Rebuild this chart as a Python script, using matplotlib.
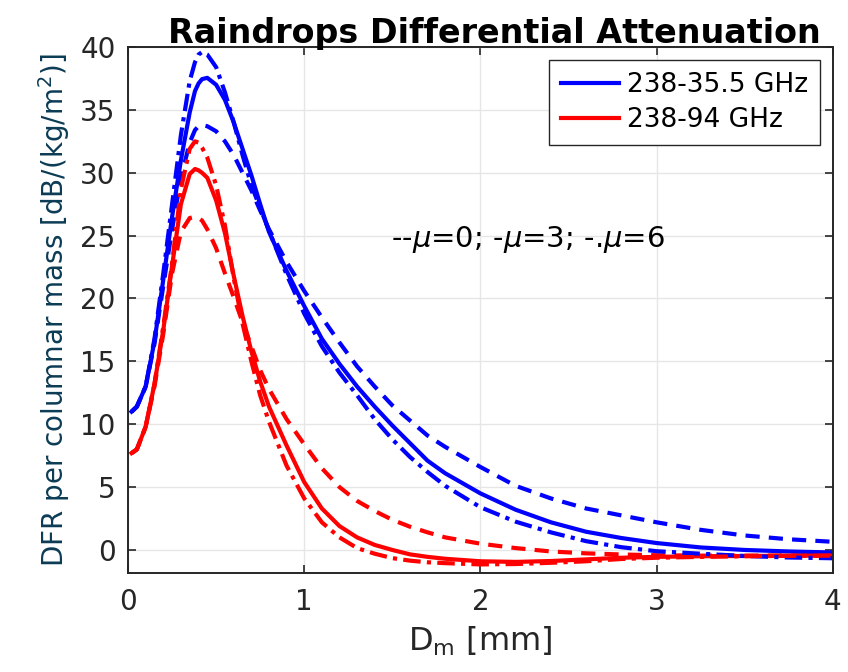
import matplotlib

matplotlib.use("Agg")

import matplotlib.pyplot as plt

# Dm grid [mm]
d_m = [0.02, 0.05, 0.1, 0.15, 0.2, 0.25, 0.3, 0.35, 0.38, 0.4, 0.42, 0.45, 0.5, 0.55,
       0.6, 0.65, 0.7, 0.75, 0.8, 0.9, 1.0, 1.1, 1.2, 1.3, 1.4, 1.5, 1.6, 1.7, 1.8,
       2.0, 2.2, 2.4, 2.6, 2.8, 3.0, 3.25, 3.5, 3.75, 4.0]

# 238-35.5 GHz
blue_mu0 = [11.0, 11.4, 13.0, 16.4, 21.0, 25.5, 29.6, 32.4, 33.4, 33.7, 33.8, 33.7, 33.3, 32.5,
            31.4, 30.0, 28.6, 27.0, 25.5, 22.9, 20.6, 18.5, 16.5, 14.6, 13.0, 11.5, 10.3, 9.1, 8.2,
            6.6, 5.1, 4.1, 3.3, 2.75, 2.2, 1.6, 1.15, 0.85, 0.65]
blue_mu3 = [11.0, 11.4, 13.0, 16.6, 21.5, 26.5, 31.0, 34.8, 36.5, 37.1, 37.45, 37.55, 37.0, 35.8,
            34.0, 31.9, 29.8, 27.5, 25.3, 22.2, 19.4, 16.8, 14.8, 13.0, 11.4, 9.9, 8.5, 7.1, 6.1,
            4.5, 3.2, 2.2, 1.45, 0.95, 0.55, 0.2, 0.0, -0.12, -0.2]
blue_mu6 = [11.0, 11.4, 13.0, 16.8, 22.0, 27.5, 33.0, 37.3, 38.8, 39.4, 39.6, 39.4, 38.4, 36.4,
            34.0, 31.4, 29.0, 27.2, 25.4, 21.9, 18.8, 16.2, 14.1, 12.3, 10.4, 8.8, 7.4, 6.2, 5.1,
            3.4, 2.25, 1.4, 0.7, 0.22, -0.1, -0.3, -0.48, -0.6, -0.66]

# 238-94 GHz
red_mu0 = [7.7, 8.0, 9.8, 13.0, 17.2, 22.0, 25.3, 26.4, 26.5, 26.4, 26.2, 25.5, 24.0, 22.0,
           20.1, 18.1, 16.2, 14.3, 12.8, 10.4, 8.4, 6.5, 5.0, 3.9, 3.1, 2.4, 1.85, 1.4, 1.0,
           0.5, 0.15, -0.12, -0.27, -0.36, -0.42, -0.45, -0.45, -0.44, -0.42]
red_mu3 = [7.7, 8.0, 9.8, 13.2, 17.5, 22.6, 27.5, 29.9, 30.3, 30.2, 30.0, 29.6, 27.8, 25.2,
           21.8, 18.6, 15.8, 13.4, 11.4, 8.3, 5.4, 3.3, 1.9, 1.0, 0.4, 0.0, -0.35, -0.55, -0.7,
           -0.9, -0.95, -0.88, -0.75, -0.62, -0.55, -0.5, -0.48, -0.46, -0.45]
red_mu6 = [7.7, 8.0, 9.8, 13.2, 17.8, 22.8, 28.7, 31.9, 32.5, 32.4, 32.0, 31.2, 29.0, 25.8,
           21.6, 18.0, 15.0, 12.3, 10.2, 6.7, 4.1, 2.2, 1.0, 0.15, -0.3, -0.65, -0.85, -0.98, -1.05,
           -1.15, -1.12, -1.02, -0.9, -0.72, -0.62, -0.55, -0.5, -0.47, -0.45]

x_ticks = [0, 1, 2, 3, 4]
y_ticks = [0, 5, 10, 15, 20, 25, 30, 35, 40]

plt.rcParams["font.family"] = "DejaVu Sans"
dark = "#262626"
lw = 3.0
style = dict(lw=lw, solid_joinstyle="round", dash_joinstyle="round")

fig = plt.figure(figsize=(8.48, 6.72), dpi=100)
ax = fig.add_axes([0.151, 0.147, 0.831, 0.783])

for y, col in [(blue_mu0, "blue"), (red_mu0, "red")]:
    ax.plot(d_m, y, color=col, linestyle=(0, (3.4, 2.2)), **style)
h1, = ax.plot(d_m, blue_mu3, color="blue", label="238-35.5 GHz", **style)
h2, = ax.plot(d_m, red_mu3, color="red", label="238-94 GHz", **style)
for y, col in [(blue_mu6, "blue"), (red_mu6, "red")]:
    ax.plot(d_m, y, color=col, linestyle=(0, (4.2, 1.5, 1.0, 1.5)), **style)

ax.set_xlim(0, 4)
ax.set_ylim(-1.85, 40)
ax.set_xticks(x_ticks)
ax.set_yticks(y_ticks)
ax.grid(True, color="#e6e6e6", lw=1.0)
ax.set_axisbelow(True)
ax.tick_params(direction="in", length=6, width=1.2, colors=dark, labelsize=20,
               top=True, right=True)
ax.tick_params(axis="x", pad=11)
ax.tick_params(axis="y", pad=9)
for s in ax.spines.values():
    s.set_color(dark)
    s.set_linewidth(1.4)

ax.set_title("Raindrops Differential Attenuation", fontsize=24, fontweight="bold",
             color="black", pad=3, x=0.52)
ax.set_xlabel(r"D$_\mathrm{m}$ [mm]", fontsize=23, color=dark, labelpad=6)
ax.set_ylabel(r"DFR per columnar mass [dB/(kg/m$^2$)]", fontsize=20, color="#0c3b55",
              labelpad=6)

ax.text(1.49, 24.7, r"--$\mu$=0; -$\mu$=3; -.$\mu$=6", fontsize=21, color="black",
        va="center", ha="left")

leg = ax.legend(handles=[h1, h2], loc="upper right", fontsize=19, frameon=True,
                fancybox=False, edgecolor=dark, framealpha=1, handlelength=2.2,
                borderaxespad=0.5, handletextpad=0.3, labelspacing=0.35,
                borderpad=0.45)
leg.get_frame().set_linewidth(1.0)

fig.savefig("out.png", dpi=100)
